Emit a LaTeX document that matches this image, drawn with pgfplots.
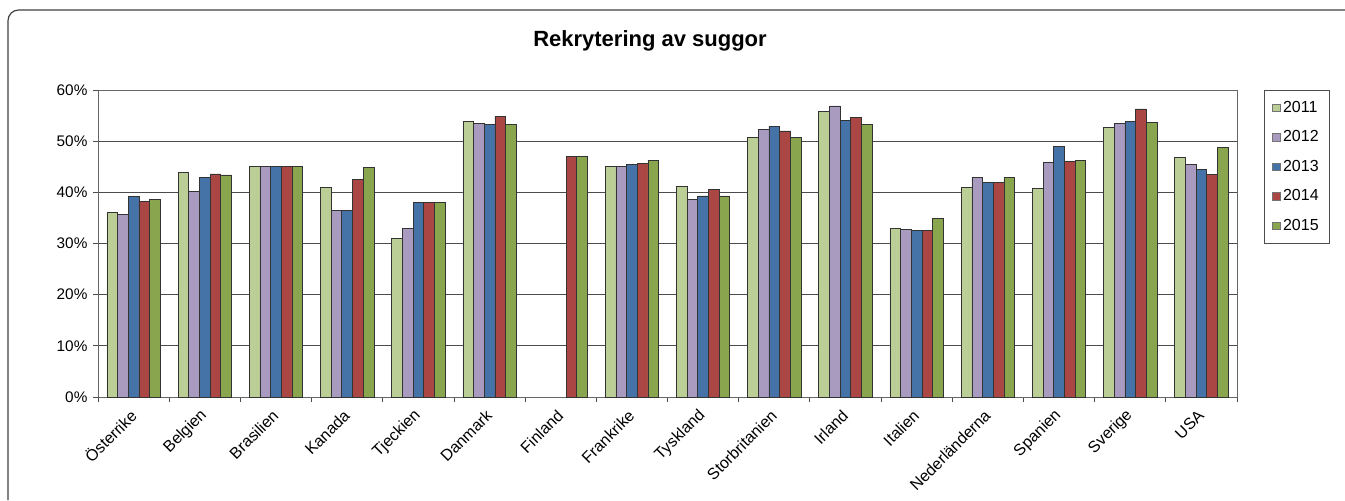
\documentclass[border=0pt]{standalone}
\usepackage{pgfplots}
\pgfplotsset{compat=1.18}
\usepackage{pgfplotstable}
\usepackage{fontspec}
\setmainfont{Liberation Sans}

\definecolor{cA}{HTML}{BBCE96}
\definecolor{cB}{HTML}{A99BBF}
\definecolor{cC}{HTML}{4572A7}
\definecolor{cD}{HTML}{AA4643}
\definecolor{cE}{HTML}{89A54E}

% x: 0 Österrike,1 Belgien,2 Brasilien,3 Kanada,4 Tjeckien,5 Danmark,6 Finland,7 Frankrike,
% 8 Tyskland,9 Storbritannien,10 Irland,11 Italien,12 Nederländerna,13 Spanien,14 Sverige,15 USA
\pgfplotstableread{
x y
0 36.1
1 43.9
2 45.0
3 41.0
4 31.0
5 53.9
7 45.0
8 41.2
9 50.8
10 55.8
11 32.9
12 41.0
13 40.7
14 52.7
15 46.8
}\tA
\pgfplotstableread{
x y
0 35.7
1 40.2
2 45.0
3 36.5
4 32.9
5 53.4
7 45.0
8 38.6
9 52.3
10 56.9
11 32.8
12 42.9
13 45.9
14 53.4
15 45.4
}\tB
\pgfplotstableread{
x y
0 39.2
1 42.9
2 45.0
3 36.5
4 38.0
5 53.2
7 45.5
8 39.3
9 52.9
10 54.1
11 32.6
12 41.9
13 48.9
14 53.8
15 44.4
}\tC
\pgfplotstableread{
x y
0 38.3
1 43.6
2 45.0
3 42.6
4 38.0
5 54.9
6 47.0
7 45.7
8 40.6
9 52.0
10 54.7
11 32.6
12 41.9
13 46.1
14 56.3
15 43.5
}\tD
\pgfplotstableread{
x y
0 38.6
1 43.4
2 45.0
3 44.9
4 38.0
5 53.2
6 47.0
7 46.2
8 39.3
9 50.8
10 53.2
11 34.9
12 42.9
13 46.2
14 53.7
15 48.8
}\tE

\begin{document}
\begin{tikzpicture}
\useasboundingbox (0,0) rectangle (1008.75pt,375pt);
\draw[black!75, line width=0.9pt, rounded corners=8pt] (6pt,0pt) -- (6pt,367.5pt) -- (1008.75pt,367.5pt);
\node[font=\fontsize{16.5}{19}\selectfont\bfseries] at (487.5pt,344.25pt) {Rekrytering av suggor};
\begin{axis}[
  at={(73.5pt,77.25pt)}, anchor=south west,
  scale only axis, width=854.25pt, height=230.25pt,
  xmin=-0.5, xmax=15.5, ymin=0, ymax=60,
  ybar=0pt, bar width=0.15,
  tick pos=left,
  xtick={0,...,15},
  xticklabels={Österrike,Belgien,Brasilien,Kanada,Tjeckien,Danmark,Finland,Frankrike,Tyskland,Storbritanien,Irland,Italien,Nederländerna,Spanien,Sverige,USA},
  major x tick style={draw=none},
  minor xtick={-0.5,0.5,...,15.5},
  minor tick length=3.75pt,
  major tick length=3.75pt,
  tick align=outside,
  tick style={black!70, line width=0.6pt},
  xticklabel style={xshift=0.5pt, yshift=-7.3pt, rotate=45, anchor=east, font=\fontsize{12}{14}\selectfont, inner sep=1pt},
  ytick={0,10,...,60},
  yticklabel={\pgfmathprintnumber{\tick}\%},
  yticklabel style={font=\fontsize{11.5}{13}\selectfont, inner sep=2pt, xshift=-2pt},
  /pgf/number format/assume math mode=true,
  ymajorgrids, major grid style={black!70, line width=0.6pt},
  axis line style={black!60, line width=0.6pt},
  every axis plot/.append style={draw=black!80, line width=0.5pt},
  legend style={at={(1.0237,1)}, anchor=north west, draw=black!70, line width=0.6pt,
    font=\fontsize{12}{14}\selectfont, row sep=8.3pt, inner xsep=6pt, inner ysep=6pt},
  legend cell align=left,
  legend image code/.code={\draw[#1, draw=black!55, line width=0.4pt] (0pt,-2.8pt) rectangle (5.6pt,2.8pt);},
]
\addplot[fill=cA] table[x=x,y=y] {\tA};
\addplot[fill=cB] table[x=x,y=y] {\tB};
\addplot[fill=cC] table[x=x,y=y] {\tC};
\addplot[fill=cD] table[x=x,y=y] {\tD};
\addplot[fill=cE] table[x=x,y=y] {\tE};
\legend{2011,2012,2013,2014,2015}
\end{axis}
\end{tikzpicture}
\end{document}
